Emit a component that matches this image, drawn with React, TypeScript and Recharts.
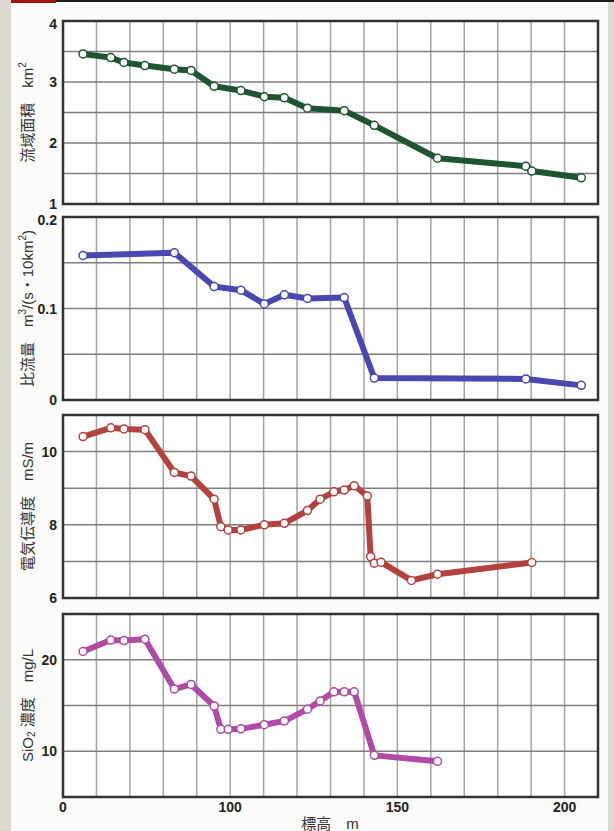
import React from "react";
import {
  LineChart,
  Line,
  XAxis,
  YAxis,
  CartesianGrid,
  ReferenceArea,
  Label,
} from "recharts";

// elevation (m) on the shared x axis
const X_TICKS = [50, 60, 70, 80, 90, 100, 110, 120, 130, 140, 150, 160, 170, 180, 190, 200, 210];
const X_LABELS: Record<number, string> = { 50: "0", 100: "100", 150: "150", 200: "200" };

// 流域面積 km2
const AREA_X = [56, 64.3, 68.2, 74.5, 83.3, 88.3, 95.2, 103.2, 110.2, 116.2, 123.1, 134.1, 143.1, 162, 188.4, 190.2, 205];
const AREA_Y = [3.46, 3.4, 3.32, 3.27, 3.21, 3.19, 2.93, 2.86, 2.76, 2.74, 2.57, 2.53, 2.29, 1.75, 1.62, 1.54, 1.43];
const AREA_TICKS = [1, 1.5, 2, 2.5, 3, 3.5, 4];
const AREA_LABELS = [1, 2, 3, 4];

// 比流量 m3/(s・10km2)
const FLOW_X = [56, 83.3, 95.2, 103.2, 110.2, 116.2, 123.1, 134.1, 143.1, 188.4, 205];
const FLOW_Y = [0.158, 0.161, 0.124, 0.12, 0.105, 0.115, 0.111, 0.112, 0.024, 0.023, 0.016];
const FLOW_TICKS = [0, 0.05, 0.1, 0.15, 0.2];
const FLOW_LABELS = [0, 0.1, 0.2];

// 電気伝導度 mS/m
const EC_X = [56, 64.3, 68.2, 74.5, 83.3, 88.3, 95.2, 97.2, 99.4, 103.2, 110.2, 116.2, 123.1, 126.9, 131, 134.1, 137.1, 141, 142, 143.1, 145.1, 154.2, 162, 190.2];
const EC_Y = [10.41, 10.65, 10.62, 10.6, 9.43, 9.33, 8.7, 7.95, 7.86, 7.86, 8.0, 8.04, 8.39, 8.7, 8.9, 8.95, 9.07, 8.79, 7.13, 6.95, 6.98, 6.48, 6.65, 6.97];
const EC_TICKS = [6, 7, 8, 9, 10, 11];
const EC_LABELS = [6, 8, 10];

// SiO2 濃度 mg/L
const SIO2_X = [56, 64.3, 68.2, 74.5, 83.3, 88.3, 95.2, 97.2, 99.4, 103.2, 110.2, 116.2, 123.1, 126.9, 131, 134.1, 137.1, 143.1, 162];
const SIO2_Y = [20.9, 22.15, 22.1, 22.25, 16.8, 17.3, 14.95, 12.4, 12.4, 12.45, 12.9, 13.3, 14.6, 15.5, 16.5, 16.5, 16.5, 9.55, 8.9];
const SIO2_TICKS = [5, 10, 15, 20, 25];
const SIO2_LABELS = [10, 20];

const zip = (xs: number[], ys: number[]) => xs.map((x, i) => ({ x, y: ys[i] }));

const NUM_FONT = "'Liberation Sans', Arial, sans-serif";
const TICK_FONT = { fontSize: 14, fontWeight: 700, fill: "#222", fontFamily: NUM_FONT };
const TITLE_FONT = "'Liberation Sans', 'Noto Sans CJK JP', sans-serif";

const PLOT_H = 183;
const M_TOP = 12;

type Part = { t: string; sup?: boolean; sub?: boolean };

const titleRenderer = (parts: Part[]) => (props: any) => {
  const vb = props.viewBox || {};
  const cx = 27;
  const cy = vb.y + vb.height / 2;
  return (
    <text
      x={cx}
      y={cy}
      textAnchor="middle"
      dominantBaseline="central"
      transform={`rotate(-90, ${cx}, ${cy})`}
      fontSize={15}
      fill="#333"
      fontFamily={TITLE_FONT}
    >
      {parts.map((p, i) => (
        <tspan
          key={i}
          fontSize={p.sup || p.sub ? 10 : 15}
          dy={p.sup ? -5 : p.sub ? 4 : i > 0 && (parts[i - 1].sup ? 5 : parts[i - 1].sub ? -4 : 0)}
        >
          {p.t}
        </tspan>
      ))}
    </text>
  );
};

// y tick: only labelled values, top one nudged down a little
const yTick = (labels: number[], top: number) => (props: any) => {
  const { x, y, payload } = props;
  const v = payload.value;
  if (!labels.includes(v)) return <g />;
  return (
    <text
      x={x}
      y={y + (v === top ? 2.5 : 0)}
      textAnchor="end"
      dominantBaseline="central"
      {...TICK_FONT}
    >
      {String(v)}
    </text>
  );
};

type PanelProps = {
  x: number[];
  y: number[];
  color: string;
  ticks: number[];
  labels: number[];
  title: Part[];
  top: number;
  bottomAxis?: boolean;
};

function Panel({ x, y, color, ticks, labels, title, top, bottomAxis }: PanelProps) {
  const data = zip(x, y);
  const xAxisH = bottomAxis ? 34 : 0;
  const height = M_TOP + PLOT_H + (bottomAxis ? xAxisH : 12);
  const yMin = ticks[0];
  const yMax = ticks[ticks.length - 1];
  return (
    <div style={{ position: "absolute", left: 0, top: top - M_TOP }}>
      <LineChart
        width={614}
        height={height}
        data={data}
        margin={{ top: M_TOP, right: 16, left: 0, bottom: bottomAxis ? 0 : 12 }}
      >
        <CartesianGrid horizontal={false} stroke="#a3a3a3" strokeWidth={1.5} fill="#ffffff" fillOpacity={1} />
        <CartesianGrid vertical={false} stroke="#7d7d7d" strokeWidth={1.5} />
        <XAxis
          type="number"
          dataKey="x"
          domain={[50, 210]}
          ticks={X_TICKS}
          interval={0}
          hide={!bottomAxis}
          height={xAxisH}
          axisLine={false}
          tickLine={false}
          tickSize={3}
          tick={TICK_FONT}
          tickFormatter={(v: number) => X_LABELS[v] ?? ""}
        >
          {bottomAxis && (
            <Label
              content={(props: any) => {
                const vb = props.viewBox || {};
                return (
                  <text
                    x={330}
                    y={vb.y + 26}
                    textAnchor="middle"
                    dominantBaseline="central"
                    fontSize={15}
                    fill="#333"
                    fontFamily={TITLE_FONT}
                  >
                    標高　m
                  </text>
                );
              }}
            />
          )}
        </XAxis>
        <YAxis
          type="number"
          domain={[yMin, yMax]}
          ticks={ticks}
          interval={0}
          width={63}
          axisLine={false}
          tickLine={false}
          tickSize={4}
          tick={yTick(labels, yMax)}
        >
          <Label content={titleRenderer(title)} />
        </YAxis>
        <ReferenceArea
          x1={50}
          x2={210}
          y1={yMin}
          y2={yMax}
          fill="none"
          stroke="#333"
          strokeWidth={2.5}
        />
        <Line
          type="linear"
          dataKey="y"
          stroke={color}
          strokeWidth={6}
          strokeLinejoin="round"
          dot={{ r: 4, fill: "#ffffff", stroke: color, strokeWidth: 1.5 }}
          activeDot={false}
          isAnimationActive={false}
        />
      </LineChart>
    </div>
  );
}

export default function App() {
  return (
    <div
      style={{
        position: "absolute",
        left: 0,
        top: 0,
        width: 614,
        height: 831,
        background: "#ddd8d0",
        overflow: "hidden",
      }}
    >
      <div style={{ position: "absolute", left: 11, top: 0, width: 597, height: 831, background: "#fbfbfa" }} />
      <div style={{ position: "absolute", left: 11, top: 0, width: 45, height: 3, background: "#a3130f" }} />
      <div style={{ position: "absolute", left: 56, top: 0, width: 558, height: 2, background: "#1e1e1e" }} />

      <Panel
        x={AREA_X}
        y={AREA_Y}
        color="#1d5530"
        ticks={AREA_TICKS}
        labels={AREA_LABELS}
        title={[{ t: "流域面積　km" }, { t: "2", sup: true }]}
        top={21}
      />
      <Panel
        x={FLOW_X}
        y={FLOW_Y}
        color="#4848b0"
        ticks={FLOW_TICKS}
        labels={FLOW_LABELS}
        title={[{ t: "比流量　m" }, { t: "3", sup: true }, { t: "/(s・10km" }, { t: "2", sup: true }, { t: ")" }]}
        top={217}
      />
      <Panel
        x={EC_X}
        y={EC_Y}
        color="#b3423e"
        ticks={EC_TICKS}
        labels={EC_LABELS}
        title={[{ t: "電気伝導度　mS/m" }]}
        top={415}
      />
      <Panel
        x={SIO2_X}
        y={SIO2_Y}
        color="#b04aa6"
        ticks={SIO2_TICKS}
        labels={SIO2_LABELS}
        title={[{ t: "SiO" }, { t: "2", sub: true }, { t: " 濃度　mg/L" }]}
        top={614}
        bottomAxis
      />
    </div>
  );
}
